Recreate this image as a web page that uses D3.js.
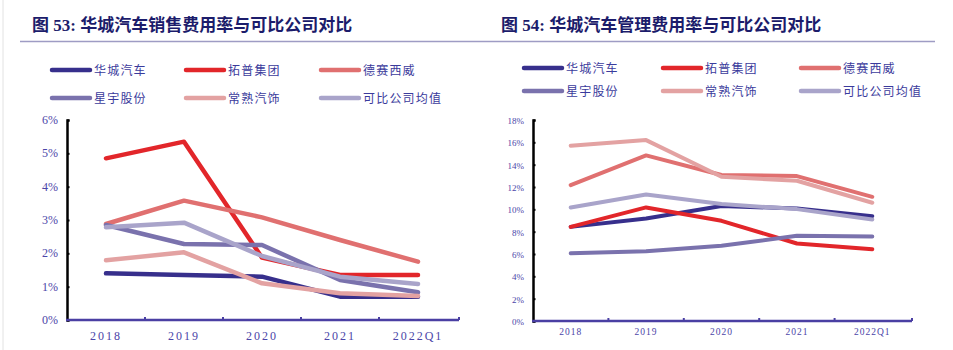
<!DOCTYPE html>
<html lang="zh">
<head>
<meta charset="UTF-8">
<title>华城汽车费用率对比</title>
<script src="https://d3js.org/d3.v7.min.js"></script>
<style>
  body { margin: 0; background: #fff; }
  svg { display: block; }
  .title { font-family: "Liberation Serif", "Noto Sans CJK SC", serif; font-weight: bold; fill: #1c1c6b; font-size: 17px; }
  .legend text { font-family: "Noto Sans CJK SC", sans-serif; fill: #3b3b9c; font-size: 12px; letter-spacing: 1.2px; }
  .tick-label { font-family: "Liberation Serif", serif; fill: #4b45a8; }
</style>
</head>
<body>
<svg id="svg" width="953" height="350"></svg>
<script>
// categories
const years = ["2018", "2019", "2020", "2021", "2022Q1"];
const companies = ["华城汽车", "拓普集团", "德赛西威", "星宇股份", "常熟汽饰", "可比公司均值"];
const colors = ["#372f8c", "#e2262a", "#e07070", "#7a72ad", "#e3a2a2", "#a9a4ca"];

// 销售费用率 (%)
const sales = [
  [1.40, 1.35, 1.30, 0.70, 0.70],
  [4.85, 5.35, 1.87, 1.35, 1.35],
  [2.88, 3.58, 3.08, 2.40, 1.75],
  [2.85, 2.28, 2.25, 1.20, 0.83],
  [1.79, 2.03, 1.10, 0.80, 0.72],
  [2.78, 2.92, 1.92, 1.30, 1.08]
];
const salesTicks = [0, 1, 2, 3, 4, 5, 6];

// 管理费用率 (%)
const admin = [
  [8.43, 9.18, 10.29, 10.08, 9.39],
  [8.43, 10.17, 8.97, 6.94, 6.43],
  [12.17, 14.83, 13.07, 12.98, 11.12],
  [6.07, 6.25, 6.73, 7.63, 7.57],
  [15.70, 16.20, 12.92, 12.56, 10.59],
  [10.17, 11.33, 10.47, 10.02, 9.09]
];
const adminTicks = [0, 2, 4, 6, 8, 10, 12, 14, 16, 18];

const svg = d3.select("#svg");

// thin page border at left
svg.append("line").attr("x1", 3).attr("x2", 3).attr("y1", 0).attr("y2", 350)
  .attr("stroke", "#e2e2e2").attr("stroke-width", 1);

function panel(opt) {
  const g = svg.append("g");

  // title + rule
  g.append("text").attr("class", "title")
    .attr("x", opt.titleX).attr("y", 31)
    .text(opt.title);
  g.append("line")
    .attr("x1", opt.ruleX[0]).attr("x2", opt.ruleX[1])
    .attr("y1", 41.5).attr("y2", 41.5)
    .attr("stroke", "#9e9cc4").attr("stroke-width", 1.5);

  // legend
  const lg = g.append("g").attr("class", "legend");
  companies.forEach((c, i) => {
    const col = i % 3, row = Math.floor(i / 3);
    const x = opt.legendX[col], y = opt.legendY[row];
    lg.append("line")
      .attr("x1", x).attr("x2", x + 38).attr("y1", y).attr("y2", y)
      .attr("stroke", colors[i]).attr("stroke-width", 4.5)
      .attr("stroke-linecap", "round");
    lg.append("text").attr("x", x + 42).attr("y", y + 4.5).text(c);
  });

  const x = d3.scaleBand().domain(years).range([opt.left, opt.right]);
  const y = d3.scaleLinear().domain([0, d3.max(opt.ticks)]).range([opt.bottom, opt.top]);

  // series
  const line = d3.line()
    .x((d, i) => x(years[i]) + x.bandwidth() / 2)
    .y(d => y(d));
  opt.data.forEach((s, i) => {
    g.append("path").datum(s)
      .attr("d", line)
      .attr("fill", "none")
      .attr("stroke", colors[i])
      .attr("stroke-width", opt.lineW)
      .attr("stroke-linejoin", "round")
      .attr("stroke-linecap", "round");
  });

  // y axis
  const yAxis = d3.axisRight(y).tickValues(opt.ticks).tickSize(2.5).tickFormat("");
  const ya = g.append("g").attr("transform", `translate(${opt.left},0)`).call(yAxis);
  ya.select(".domain").attr("stroke", "#000").attr("stroke-width", 2.5);
  ya.selectAll(".tick line").attr("stroke", "#000").attr("stroke-width", 2);
  g.selectAll(".ylab").data(opt.ticks).enter().append("text")
    .attr("class", "tick-label")
    .attr("x", opt.left - 9).attr("y", d => y(d) + 4)
    .attr("text-anchor", "end").attr("font-size", opt.yFont)
    .text(d => d + "%");

  // x axis
  const xa = g.append("g").attr("transform", `translate(0,${opt.bottom})`);
  xa.append("line").attr("x1", opt.left - 1).attr("x2", opt.right + 2)
    .attr("stroke", "#4a3fa3").attr("stroke-width", 2.5);
  const bounds = years.map(d => x(d)).slice(1).concat([opt.right + 2]);
  xa.selectAll(".xt").data(bounds).enter().append("line")
    .attr("x1", d => d).attr("x2", d => d).attr("y1", 0).attr("y2", -3)
    .attr("stroke", "#4a3fa3").attr("stroke-width", 2);
  xa.selectAll(".xl").data(years).enter().append("text")
    .attr("class", "tick-label")
    .attr("x", d => x(d) + x.bandwidth() / 2)
    .attr("y", opt.xLabDy)
    .attr("text-anchor", "middle")
    .attr("font-size", opt.xFont)
    .attr("letter-spacing", opt.xSpace)
    .text(d => d);
}

panel({
  title: "图 53:  华城汽车销售费用率与可比公司对比",
  titleX: 32, ruleX: [20, 480],
  legendX: [52, 186, 321], legendY: [70, 98],
  left: 67, right: 457, top: 120, bottom: 320,
  data: sales, ticks: salesTicks,
  lineW: 4.5, yFont: 12, xFont: 12, xSpace: 2, xLabDy: 20
});

panel({
  title: "图 54:  华城汽车管理费用率与可比公司对比",
  titleX: 501, ruleX: [480, 935],
  legendX: [524, 663, 801], legendY: [68, 91],
  left: 533, right: 910, top: 120, bottom: 321,
  data: admin, ticks: adminTicks,
  lineW: 4, yFont: 9, xFont: 9.5, xSpace: 1, xLabDy: 14
});
</script>
</body>
</html>
